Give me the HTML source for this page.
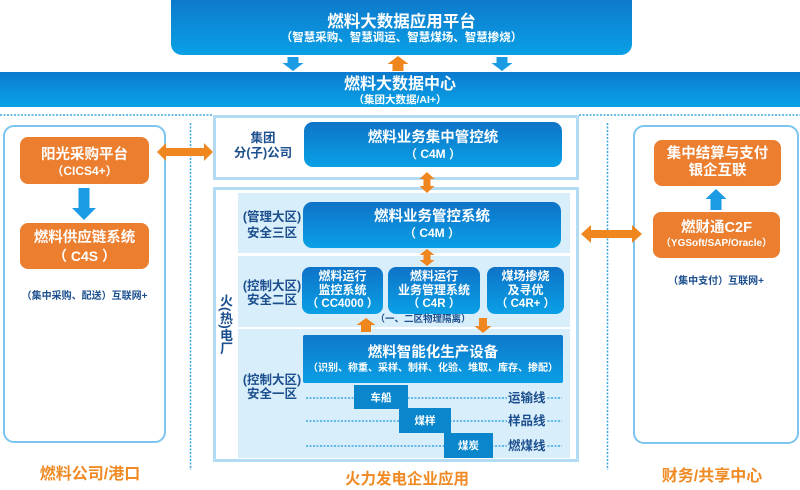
<!DOCTYPE html>
<html><head><meta charset="utf-8">
<style>
*{margin:0;padding:0;box-sizing:border-box}
body{width:800px;height:487px;position:relative;overflow:hidden;background:#fff;font-family:"Liberation Sans","Noto Sans CJK SC",sans-serif;font-weight:bold}
.a{position:absolute}
.c{position:absolute;text-align:center;white-space:nowrap}
.blue{background:linear-gradient(#0e73c7,#0aa0e6);border-radius:9px}
.or{background:#eb7e2f;border-radius:8px}
.w{color:#fff}
.dk{color:#1c4f8e}
.zone{position:absolute;background:#d8eefa}
.step{position:absolute;background:#0a86cd;color:#fff;font-size:10.5px;display:flex;align-items:center;justify-content:center}
.lbl{position:absolute;background:#d8eefa;color:#1c4f8e;font-size:12.5px;line-height:14px;padding:0 1px}
.panel{position:absolute;border:2px solid #7cc5ef;border-radius:11px;background:#fff}
.bot{position:absolute;color:#f08a24;font-size:16px;text-align:center;white-space:nowrap}
</style></head><body>

<!-- top platform -->
<div class="a blue" style="left:171px;top:-10px;width:461px;height:65px;border-radius:11px"></div>
<div class="c w" style="left:171px;width:461px;top:12px;font-size:16.5px;line-height:20px">燃料大数据应用平台</div>
<div class="c w" style="left:171px;width:461px;top:31px;font-size:11.5px;line-height:14px">（智慧采购、智慧调运、智慧煤场、智慧掺烧）</div>

<!-- data center band -->
<div class="a" style="left:0;top:72px;width:800px;height:35px;background:linear-gradient(#0b7acf,#0aa3e7)"></div>
<div class="c w" style="left:0;width:800px;top:75px;font-size:16px;line-height:20px">燃料大数据中心</div>
<div class="c w" style="left:0;width:800px;top:93px;font-size:10.5px;line-height:14px">（集团大数据/AI+）</div>

<!-- left panel -->
<div class="panel" style="left:3px;top:125px;width:163px;height:318px"></div>
<div class="a or" style="left:20px;top:137px;width:129px;height:47px"></div>
<div class="c w" style="left:20px;width:129px;top:146px;font-size:14.5px;line-height:18px">阳光采购平台</div>
<div class="c w" style="left:20px;width:129px;top:164px;font-size:12px;line-height:15px">（CICS4+）</div>
<div class="a or" style="left:20px;top:223px;width:129px;height:46px"></div>
<div class="c w" style="left:20px;width:129px;top:229px;font-size:14.5px;line-height:18px">燃料供应链系统</div>
<div class="c w" style="left:20px;width:129px;top:247px;font-size:14px;line-height:18px">（ C4S ）</div>
<div class="c dk" style="left:3px;width:163px;top:290px;font-size:10px;line-height:14px">（集中采购、配送）互联网+</div>

<!-- right panel -->
<div class="panel" style="left:633px;top:125px;width:166px;height:319px"></div>
<div class="a or" style="left:654px;top:140px;width:127px;height:46px"></div>
<div class="c w" style="left:654px;width:127px;top:146px;font-size:14.5px;line-height:17px">集中结算与支付</div>
<div class="c w" style="left:654px;width:127px;top:163px;font-size:14.5px;line-height:17px">银企互联</div>
<div class="a or" style="left:653px;top:212px;width:127px;height:46px"></div>
<div class="c w" style="left:653px;width:127px;top:219px;font-size:14.5px;line-height:18px">燃财通C2F</div>
<div class="c w" style="left:653px;width:127px;top:237px;font-size:10px;line-height:14px">（YGSoft/SAP/Oracle）</div>
<div class="c dk" style="left:633px;width:166px;top:275px;font-size:10px;line-height:14px">（集中支付）互联网+</div>

<!-- group box -->
<div class="a" style="left:213px;top:115px;width:366px;height:65px;border:3px solid #b3dcf4;background:#fff"></div>
<div class="c dk" style="left:228px;width:70px;top:131px;font-size:12.5px;line-height:14.5px">集团<br>分(子)公司</div>
<div class="a blue" style="left:304px;top:122px;width:258px;height:45px"></div>
<div class="c w" style="left:304px;width:258px;top:129px;font-size:14.5px;line-height:19px">燃料业务集中管控统</div>
<div class="c w" style="left:304px;width:258px;top:147px;font-size:12px;line-height:15px">（ C4M ）</div>

<!-- plant box -->
<div class="a" style="left:213px;top:187px;width:366px;height:275px;border:3px solid #b3dcf4;background:#fff"></div>
<div class="zone" style="left:238px;top:193px;width:332px;height:60px"></div>
<div class="zone" style="left:238px;top:256px;width:332px;height:71px"></div>
<div class="zone" style="left:238px;top:329px;width:332px;height:129px"></div>

<div class="a dk" style="left:218px;top:294px;writing-mode:vertical-rl;font-size:13px;line-height:14px;width:14px">火(热)电厂</div>

<div class="c dk" style="left:237px;width:70px;top:210px;font-size:12.5px;line-height:15.5px">(管理大区)<br>安全三区</div>
<div class="c dk" style="left:237px;width:70px;top:279px;font-size:12.5px;line-height:14px">(控制大区)<br>安全二区</div>
<div class="c dk" style="left:237px;width:70px;top:373px;font-size:12.5px;line-height:14px">(控制大区)<br>安全一区</div>

<div class="a blue" style="left:303px;top:202px;width:258px;height:46px"></div>
<div class="c w" style="left:303px;width:258px;top:208px;font-size:14.5px;line-height:19px">燃料业务管控系统</div>
<div class="c w" style="left:303px;width:258px;top:226px;font-size:12px;line-height:15px">（ C4M ）</div>

<div class="a blue" style="left:302px;top:267px;width:81px;height:47px;border-radius:8px"></div>
<div class="c w" style="left:302px;width:81px;top:270px;font-size:12px;line-height:13.5px">燃料运行<br>监控系统<br><span style="font-size:11.5px">（ CC4000 ）</span></div>
<div class="a blue" style="left:388px;top:267px;width:92px;height:47px;border-radius:8px"></div>
<div class="c w" style="left:388px;width:92px;top:270px;font-size:12px;line-height:13.5px">燃料运行<br>业务管理系统<br><span style="font-size:11.5px">（ C4R ）</span></div>
<div class="a blue" style="left:487px;top:267px;width:77px;height:47px;border-radius:8px"></div>
<div class="c w" style="left:487px;width:77px;top:270px;font-size:12px;line-height:13.5px">煤场掺烧<br>及寻优<br><span style="font-size:11.5px">（ C4R+ ）</span></div>

<div class="c dk" style="left:363px;width:120px;top:313px;font-size:9.5px;line-height:14px">（一、二区物理隔离）</div>

<div class="a" style="left:303px;top:335px;width:260px;height:48px;background:linear-gradient(#0e78ca,#0a9fe5);border-radius:2px"></div>
<div class="c w" style="left:303px;width:260px;top:344px;font-size:14.5px;line-height:19px">燃料智能化生产设备</div>
<div class="c w" style="left:303px;width:260px;top:362px;font-size:10px;line-height:13px">（识别、称重、采样、制样、化验、堆取、库存、掺配）</div>

<!-- dotted lines -->
<svg class="a" style="left:0;top:0" width="800" height="487">
<g stroke="#3aa6e2" stroke-width="1.5" stroke-dasharray="2,1.5" fill="none">
<line x1="0" y1="115" x2="213" y2="115"/>
<line x1="579" y1="115" x2="800" y2="115"/>
<line x1="190.5" y1="123" x2="190.5" y2="470"/>
<line x1="607.5" y1="123" x2="607.5" y2="470"/>
<line x1="306" y1="398" x2="562" y2="398"/>
<line x1="306" y1="421" x2="562" y2="421"/>
<line x1="306" y1="446" x2="562" y2="446"/>
</g>
</svg>

<div class="step" style="left:354px;top:385px;width:54px;height:24px">车船</div>
<div class="step" style="left:399px;top:408px;width:52px;height:25px">煤样</div>
<div class="step" style="left:444px;top:433px;width:49px;height:25px">煤炭</div>
<div class="lbl" style="left:507px;top:391px">运输线</div>
<div class="lbl" style="left:507px;top:414px">样品线</div>
<div class="lbl" style="left:507px;top:439px">燃煤线</div>

<!-- arrows -->
<svg class="a" style="left:0;top:0" width="800" height="487">
<g fill="#1a9be3">
<polygon points="287.5,57 298.5,57 298.5,63 303.5,63 293,71 282.5,63 287.5,63"/>
<polygon points="496.5,57 507.5,57 507.5,63 512.5,63 502,71 491.5,63 496.5,63"/>
<polygon points="78.5,188 89.5,188 89.5,208 96,208 84,220 72,208 78.5,208"/>
<polygon points="710.5,210 721.5,210 721.5,199 726.5,199 716,189 705.5,199 710.5,199"/>
</g>
<g fill="#f0861e">
<polygon points="392.5,71 403.5,71 403.5,64 408.5,64 398,56 387.5,64 392.5,64"/>
<polygon points="157,152 166,143 166,148 204,148 204,143 213,152 204,161 204,156 166,156 166,161"/>
<polygon points="581,234 591,225 591,230 632,230 632,225 642,234 632,243 632,238 591,238 591,243"/>
<polygon points="427,172 434.5,179 430.5,179 430.5,186 434.5,186 427,193 419.5,186 423.5,186 423.5,179 419.5,179"/>
<polygon points="427,249 434.5,255 430.5,255 430.5,260 434.5,260 427,266 419.5,260 423.5,260 423.5,255 419.5,255"/>
<polygon points="366,318 375.5,325 371,325 371,332 361,332 361,325 356.5,325"/>
<polygon points="479,318 487,318 487,326 491.5,326 483,333 474.5,326 479,326"/>
</g>
</svg>

<!-- bottom labels -->
<div class="bot" style="left:30px;width:120px;top:465px;line-height:20px">燃料公司/港口</div>
<div class="bot" style="left:337px;width:140px;top:470px;line-height:20px;font-size:15.5px">火力发电企业应用</div>
<div class="bot" style="left:652px;width:120px;top:467px;line-height:20px">财务/共享中心</div>

</body></html>
